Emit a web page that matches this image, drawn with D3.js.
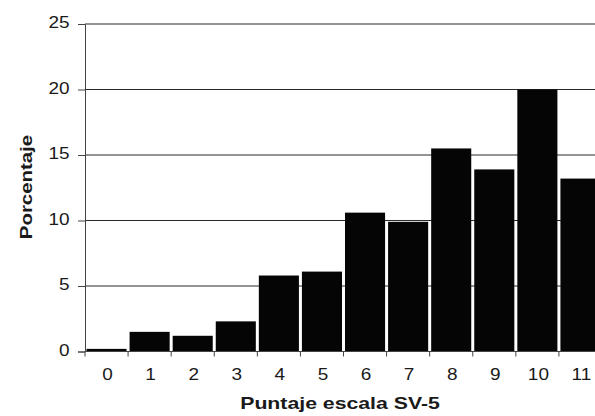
<!DOCTYPE html>
<html><head><meta charset="utf-8">
<script src="https://cdn.jsdelivr.net/npm/d3@7"></script>
<style>body{margin:0;background:#fff}svg{display:block}</style>
</head><body>
<svg id="c" width="595" height="416"></svg>
<script>
const categories = ["0","1","2","3","4","5","6","7","8","9","10","11"];
const values = [0.2, 1.5, 1.2, 2.3, 5.8, 6.1, 10.6, 9.9, 15.5, 13.9, 20.0, 13.2];
const yTicks = [0, 5, 10, 15, 20, 25];
const xTitle = "Puntaje escala SV-5";
const yTitle = "Porcentaje";

(function () {
const svg = d3.select("#c");
const mLeft = 85, mRight = 602, mTop = 24, mBottom = 351.5;
const font = "Liberation Sans, Arial, Helvetica, sans-serif";
const stretch = 1.15;
const tickSize = 16.5;

const x = d3.scaleBand().domain(categories).range([mLeft, mRight]).paddingInner(0.07).paddingOuter(0.035);
const y = d3.scaleLinear().domain([0, 25]).range([mBottom, mTop]);

// gridlines
svg.append("g").selectAll("line").data(yTicks.filter(d => d > 0)).join("line")
  .attr("x1", mLeft).attr("x2", 595)
  .attr("y1", d => y(d)).attr("y2", d => y(d))
  .attr("stroke", "#2a2a2a").attr("stroke-width", 1.1);

// bars
svg.append("g").selectAll("rect").data(values).join("rect")
  .attr("x", (d, i) => x(categories[i]))
  .attr("width", x.bandwidth())
  .attr("y", d => y(d))
  .attr("height", d => y(0) - y(d))
  .attr("fill", "#050505");

// y axis
const yAxis = svg.append("g").attr("transform", `translate(${mLeft},0)`)
  .call(d3.axisLeft(y).tickValues(yTicks).tickSize(7));
yAxis.select(".domain").attr("stroke", "#444");
yAxis.selectAll(".tick line").attr("stroke", "#444");
yAxis.selectAll(".tick text")
  .attr("x", null).attr("dy", null)
  .attr("transform", `translate(-15.5,3.8) scale(${stretch},1)`)
  .attr("font-family", font).attr("font-size", tickSize).attr("fill", "#1a1a1a");

// x axis with ticks at band boundaries
const xAxisG = svg.append("g").attr("transform", `translate(0,${mBottom})`);
xAxisG.append("line").attr("x1", mLeft).attr("x2", 595).attr("y1", 0).attr("y2", 0).attr("stroke", "#444");
const step = x.step();
const boundaries = categories.map((c, i) => i === 0 ? mLeft : x(c) - (step - x.bandwidth()) / 2);
xAxisG.selectAll("line.tk").data(boundaries).join("line").attr("class", "tk")
  .attr("x1", d => d).attr("x2", d => d).attr("y1", 0).attr("y2", 5).attr("stroke", "#444");
xAxisG.selectAll("text").data(categories).join("text")
  .attr("transform", d => `translate(${x(d) + x.bandwidth() / 2 + 1},28) scale(${stretch},1)`)
  .attr("text-anchor", "middle")
  .attr("font-family", font).attr("font-size", tickSize).attr("fill", "#1a1a1a")
  .text(d => d);

// titles
svg.append("text").attr("transform", `translate(340,409.3) scale(1.25,1)`).attr("text-anchor", "middle")
  .attr("font-family", font).attr("font-weight", "bold").attr("font-size", 17).attr("fill", "#1a1a1a")
  .text(xTitle);
svg.append("text").attr("transform", `translate(32.3,187) rotate(-90) scale(1.2,1)`).attr("text-anchor", "middle")
  .attr("font-family", font).attr("font-weight", "bold").attr("font-size", 17).attr("fill", "#1a1a1a")
  .text(yTitle);
})();
</script>
</body></html>
